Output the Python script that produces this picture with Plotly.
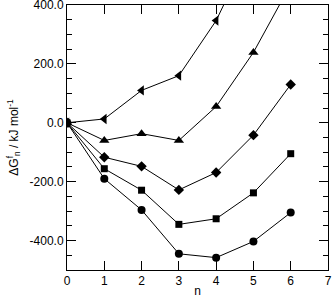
import plotly.graph_objects as go

n = [0, 1, 2, 3, 4, 5, 6]
circles = [0, -190, -296, -445, -458, -403, -305]
squares = [0, -156, -229, -345, -326, -238, -105]
diamonds = [0, -117, -148, -228, -169, -42, 130]
tri_up = [0, -60, -37, -60, 55, 239, 470]
tri_left = [0, 13, 110, 160, 347, 610]
n_left = [0, 1, 2, 3, 4, 5]

yticks = [-400, -200, 0, 200, 400]
yticklabels = ["-400.0", "-200.0", "0.0", "200.0", "400.0"]
xticks = [0, 1, 2, 3, 4, 5, 6, 7]

series = [
    (n, circles, "circle", 8),
    (n, squares, "square", 7),
    (n, diamonds, "diamond", 8),
    (n, tri_up, "triangle-up", 9),
    (n_left, tri_left, "triangle-left", 9),
]

fig = go.Figure()
for xs, ys, sym, sz in series:
    fig.add_trace(go.Scatter(
        x=xs, y=ys, mode="lines+markers",
        line=dict(color="black", width=1),
        marker=dict(symbol=sym, size=sz, color="black"),
        cliponaxis=True, showlegend=False,
    ))

font = dict(family="Liberation Sans, Arial", size=12, color="black")
axis_common = dict(
    showgrid=False, zeroline=False, showline=True, linecolor="black",
    linewidth=1, mirror="ticks", ticks="inside", ticklen=9,
    tickcolor="black", tickwidth=1, automargin=False,
    tickfont=font, ticklabeloverflow="allow",
)

fig.update_xaxes(
    range=[0, 7], tickvals=xticks, ticktext=[str(v) for v in xticks],
    title=dict(text="n", font=font, standoff=12),
    **axis_common,
)
fig.update_yaxes(
    range=[-500, 400], tickvals=yticks, ticktext=yticklabels,
    minor=dict(dtick=50, tick0=0, ticks="inside", ticklen=5, tickcolor="black", tickwidth=1, showgrid=False),
    title=dict(text="ΔG<sup>f</sup><sub>n</sub> / kJ mol<sup>-1</sup>", font=font, standoff=8),
    **axis_common,
)

fig.update_layout(
    width=332, height=298,
    margin=dict(l=67, r=4, t=5, b=28),
    plot_bgcolor="white", paper_bgcolor="white",
)

fig.write_html(
    "out.html",
    config={"displayModeBar": False},
    post_script="document.body.style.margin='0';document.body.style.overflow='hidden';",
)
